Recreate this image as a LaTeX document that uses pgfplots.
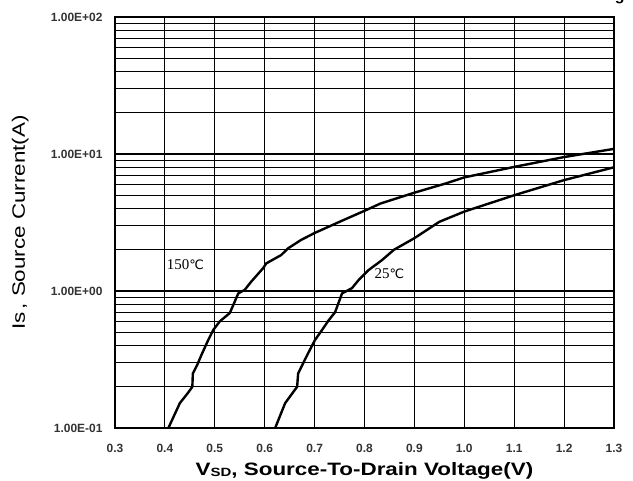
\documentclass[border=0pt]{standalone}
\usepackage{fontspec}
\setmainfont{Liberation Sans}
\newfontfamily\widesans[FakeStretch=1.25]{Liberation Sans}
\newfontfamily\serifc{Liberation Serif}
\newfontfamily\symb{DejaVu Sans}
\usepackage{pgfplots}
\pgfplotsset{compat=1.18}

\begin{document}
\begin{tikzpicture}
\begin{axis}[
    scale only axis, width=499bp, height=411bp,
    ymode=log,
    xmin=0.3, xmax=1.3, ymin=0.1, ymax=100,
    xtick={0.3,0.4,0.5,0.6,0.7,0.8,0.9,1.0,1.1,1.2,1.3},
    xticklabels={0.3,0.4,0.5,0.6,0.7,0.8,0.9,1.0,1.1,1.2,1.3},
    ytick={0.1,1,10,100},
    yticklabels={1.00E-01,1.00E+00,1.00E+01,1.00E+02},
    major tick length=0, minor tick length=0,
    xmajorgrids, ymajorgrids, yminorgrids,
    grid style={black, line width=1.1bp},
    minor grid style={black, line width=1.1bp},
    axis line style={black, line width=1.8bp},
    tick label style={font=\fontsize{12}{14}\selectfont\bfseries, text=black!80},
    xticklabel style={yshift=-13bp},
    yticklabel style={xshift=-9bp},
    every axis x label/.style={at={(rel axis cs:0.5,0)}, anchor=base, yshift=-47bp,
        font=\widesans\fontsize{18}{20}\selectfont\bfseries},
    every axis y label/.style={at={(rel axis cs:0,0.5)}, anchor=base, xshift=-90bp, rotate=90,
        font=\widesans\fontsize{18}{20}\selectfont},
    xlabel={V\raisebox{-0.15ex}{\fontsize{12}{14}\selectfont SD}, Source-To-Drain Voltage(V)},
    ylabel={Is\,, Source Current(A)},
]
% 150 C
\addplot[black, line width=2.4bp, line join=round] coordinates {
(0.407,0.100) (0.430,0.152) (0.446,0.180) (0.455,0.200) (0.456,0.250)
(0.465,0.290) (0.473,0.340) (0.487,0.440) (0.497,0.520) (0.510,0.600)
(0.530,0.690) (0.537,0.790) (0.547,0.960) (0.560,1.020) (0.573,1.170)
(0.597,1.470) (0.603,1.590) (0.633,1.830) (0.647,2.050) (0.673,2.360)
(0.700,2.650) (0.750,3.200) (0.800,3.850) (0.832,4.350) (0.900,5.220)
(0.963,6.100) (1.000,6.750) (1.100,8.050) (1.200,9.500) (1.300,10.900)
};
% 25 C
\addplot[black, line width=2.4bp, line join=round] coordinates {
(0.621,0.100) (0.641,0.152) (0.665,0.200) (0.667,0.250) (0.685,0.340)
(0.701,0.440) (0.715,0.520) (0.728,0.610) (0.741,0.700) (0.755,0.960)
(0.775,1.050) (0.788,1.200) (0.808,1.420) (0.835,1.680) (0.859,2.000)
(0.900,2.430) (0.950,3.200) (1.000,3.800) (1.100,5.000) (1.200,6.450)
(1.300,8.000)
};
\node[font=\serifc\fontsize{15}{17}\selectfont, inner sep=0pt] at (axis cs:0.441,1.55) {150{\symb\fontsize{13}{15}\selectfont ℃}};
\node[font=\serifc\fontsize{15}{17}\selectfont, inner sep=0pt] at (axis cs:0.850,1.35) {25{\symb\fontsize{13}{15}\selectfont ℃}};
\end{axis}
\node[anchor=base east, font=\bfseries\fontsize{16}{18}\selectfont] at (513bp,427bp) {g};
\pgfresetboundingbox
\useasboundingbox (-115bp,-53bp) rectangle (518bp,428bp);
\end{tikzpicture}
\end{document}
